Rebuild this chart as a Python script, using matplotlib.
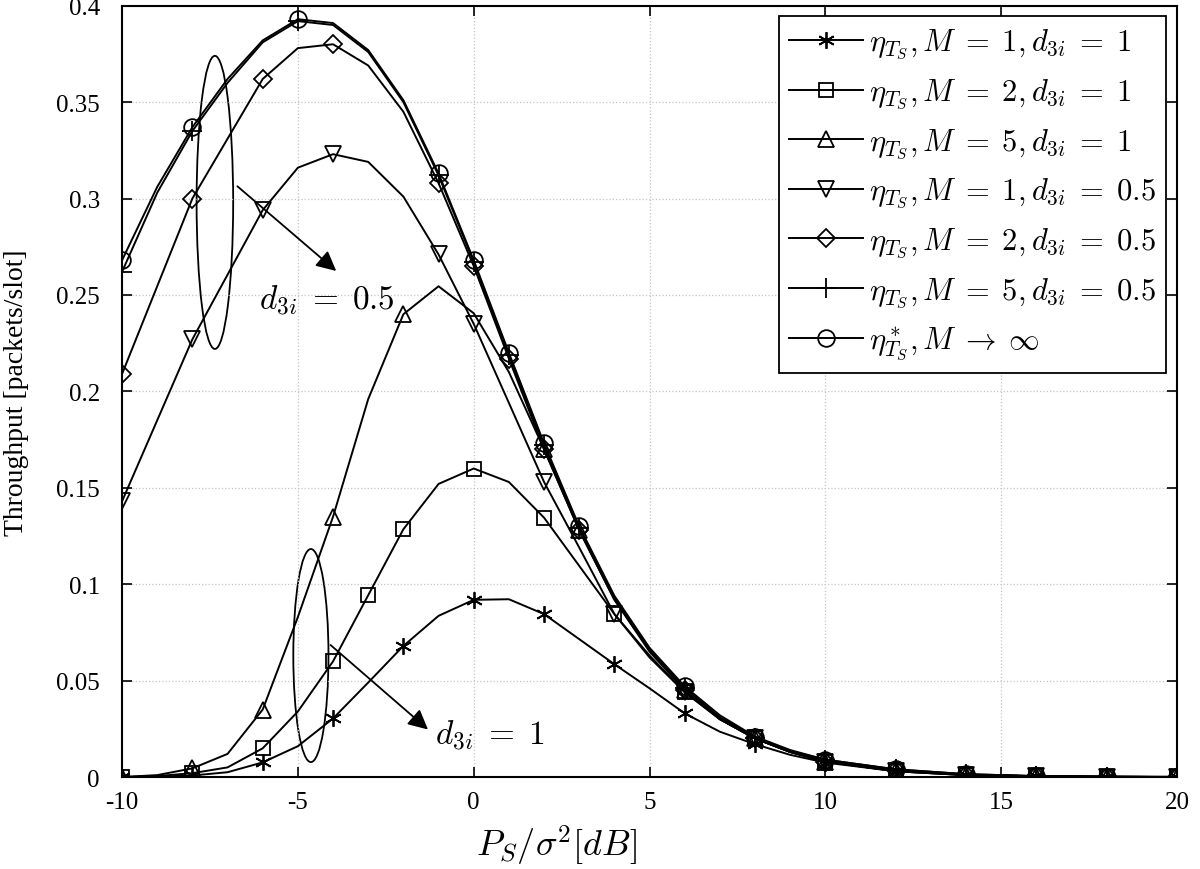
import matplotlib
matplotlib.use('Agg')
import matplotlib.pyplot as plt
from matplotlib.patches import Ellipse

plt.rcParams['font.family'] = 'Liberation Serif'
plt.rcParams['mathtext.fontset'] = 'cm'
plt.rcParams['axes.unicode_minus'] = False

# SNR grid (dB)
x = [-10, -9, -8, -7, -6, -5, -4, -3, -2, -1, 0, 1, 2, 3, 4, 5, 6, 7, 8, 9, 10, 12, 14, 16, 18, 20]

m1_d1 = [0, 0.0002, 0.0008, 0.0025, 0.0076, 0.016, 0.0304, 0.049, 0.068, 0.0836, 0.0919, 0.0922, 0.0845,
         0.0715, 0.0585, 0.046, 0.033, 0.0235, 0.017, 0.0115, 0.0075, 0.003, 0.001, 0.0004, 0.0001, 0.0]
m2_d1 = [0, 0.0005, 0.002, 0.005, 0.0149, 0.034, 0.060, 0.0943, 0.1285, 0.152, 0.160, 0.153, 0.1345,
         0.1095, 0.0845, 0.063, 0.044, 0.030, 0.020, 0.013, 0.008, 0.003, 0.001, 0.0004, 0.0001, 0.0]
m5_d1 = [0, 0.001, 0.0045, 0.012, 0.035, 0.083, 0.135, 0.196, 0.240, 0.2545, 0.2405, 0.210, 0.170,
         0.128, 0.092, 0.065, 0.045, 0.030, 0.020, 0.013, 0.008, 0.0035, 0.0012, 0.0004, 0.0001, 0.0]
m1_d05 = [0.143, 0.185, 0.227, 0.2605, 0.294, 0.316, 0.323, 0.319, 0.301, 0.271, 0.235, 0.194, 0.153,
          0.119, 0.0845, 0.062, 0.044, 0.030, 0.020, 0.013, 0.008, 0.003, 0.001, 0.0004, 0.0001, 0.0]
m2_d05 = [0.209, 0.2545, 0.300, 0.331, 0.362, 0.378, 0.380, 0.369, 0.345, 0.308, 0.265, 0.217, 0.170,
          0.128, 0.092, 0.066, 0.045, 0.030, 0.020, 0.013, 0.008, 0.0035, 0.0012, 0.0004, 0.0001, 0.0]
m5_d05 = [0.262, 0.303, 0.335, 0.360, 0.381, 0.392, 0.390, 0.376, 0.350, 0.312, 0.267, 0.219, 0.172,
          0.129, 0.093, 0.066, 0.046, 0.031, 0.0205, 0.0135, 0.009, 0.004, 0.0015, 0.0005, 0.0002, 0.0001]
m_inf = [0.268, 0.306, 0.337, 0.362, 0.382, 0.393, 0.391, 0.377, 0.351, 0.313, 0.268, 0.220, 0.173,
         0.130, 0.094, 0.067, 0.047, 0.032, 0.021, 0.014, 0.009, 0.004, 0.0015, 0.0005, 0.0002, 0.0001]

# where the markers sit on each curve
tail = [6, 8, 10, 12, 14, 16, 18, 20]
mk_m1_d1 = [-10, -8, -6, -4, -2, 0, 2, 4] + tail
mk_m2_d1 = [-10, -8, -6, -4, -3, -2, 0, 2, 4] + tail
mk_m5_d1 = [-10, -8, -6, -4, -2, 2, 3] + tail
mk_m1_d05 = [-10, -8, -6, -4, -1, 0, 2, 4] + tail
mk_m2_d05 = [-10, -8, -6, -4, -1, 0, 1, 2, 3] + tail
mk_m5_d05 = [-10, -8, -5, -1, 0, 1, 2, 3] + tail
mk_inf = [-10, -8, -5, -1, 0, 1, 2, 3] + tail

labels = [r'$\eta_{T_S}, M\;=\;1, d_{3i}\;=\;1$',
          r'$\eta_{T_S}, M\;=\;2, d_{3i}\;=\;1$',
          r'$\eta_{T_S}, M\;=\;5, d_{3i}\;=\;1$',
          r'$\eta_{T_S}, M\;=\;1, d_{3i}\;=\;0.5$',
          r'$\eta_{T_S}, M\;=\;2, d_{3i}\;=\;0.5$',
          r'$\eta_{T_S}, M\;=\;5, d_{3i}\;=\;0.5$',
          r'$\eta^*_{T_S}, M\;\rightarrow\;\infty$']

fig = plt.figure(figsize=(12, 8.7), dpi=100)
ax = fig.add_axes([0.1017, 0.1057, 0.8792, 0.8866])

series = [m1_d1, m2_d1, m5_d1, m1_d05, m2_d05, m5_d05, m_inf]
marks = [mk_m1_d1, mk_m2_d1, mk_m5_d1, mk_m1_d05, mk_m2_d05, mk_m5_d05, mk_inf]
styles = [((6, 2, 0), 12), ('s', 10), ('^', 12), ('v', 12), ('D', 9), ('+', 15), ('o', 12)]

for y, mk, (m, ms), lab in zip(series, marks, styles, labels):
    idx = [x.index(v) for v in mk]
    ax.plot(x, y, '-', color='black', lw=1.4, marker=m, ms=ms, mfc='none', mec='black',
            mew=1.3, markevery=idx, label=lab)

# annotations
ax.add_patch(Ellipse((-7.36, 0.298), 1.04, 0.152, fill=False, ec='black', lw=1.3))
ax.add_patch(Ellipse((-4.63, 0.063), 1.0, 0.1105, fill=False, ec='black', lw=1.3))
ax.annotate('', xy=(-3.85, 0.2615), xytext=(-6.78, 0.3073),
            arrowprops=dict(arrowstyle='-|>', color='black', lw=1.3, mutation_scale=30))
ax.annotate('', xy=(-1.24, 0.0237), xytext=(-4.13, 0.0694),
            arrowprops=dict(arrowstyle='-|>', color='black', lw=1.3, mutation_scale=30))
ax.text(-6.1, 0.2477, r'$d_{3i}\;=\;0.5$', fontsize=24, va='center', ha='left')
ax.text(-1.1, 0.0223, r'$d_{3i}\;=\;1$', fontsize=24, va='center', ha='left')

ax.set_xlim(-10, 20)
ax.set_ylim(0, 0.4)
ax.set_xticks([-10, -5, 0, 5, 10, 15, 20])
ax.set_xticklabels(['-10', '-5', '0', '5', '10', '15', '20'])
ax.set_yticks([0, 0.05, 0.1, 0.15, 0.2, 0.25, 0.3, 0.35, 0.4])
ax.set_yticklabels(['0', '0.05', '0.1', '0.15', '0.2', '0.25', '0.3', '0.35', '0.4'])
ax.tick_params(direction='in', top=True, right=True, labelsize=18, length=7, width=1.2)
ax.tick_params(axis='y', pad=16)
ax.tick_params(axis='x', pad=10)
ax.grid(True, linestyle=':', color='#c4c4c4', lw=0.9)
for s in ax.spines.values():
    s.set_linewidth(1.5)

ax.set_xlabel(r'$P_S/\sigma^2[dB]$', fontsize=26)
ax.xaxis.set_label_coords(0.412, -0.06)
ax.set_ylabel('Throughput [packets/slot]', fontsize=20)
ax.yaxis.set_label_coords(-0.088, 0.5)

leg = ax.legend(loc='upper right', fontsize=22, numpoints=1, handlelength=2.4, fancybox=False,
                edgecolor='black', framealpha=1, borderaxespad=0.35, handletextpad=0.2,
                labelspacing=0.5, borderpad=0.35)
leg.get_frame().set_linewidth(1.3)

fig.savefig('out.png', dpi=100)
